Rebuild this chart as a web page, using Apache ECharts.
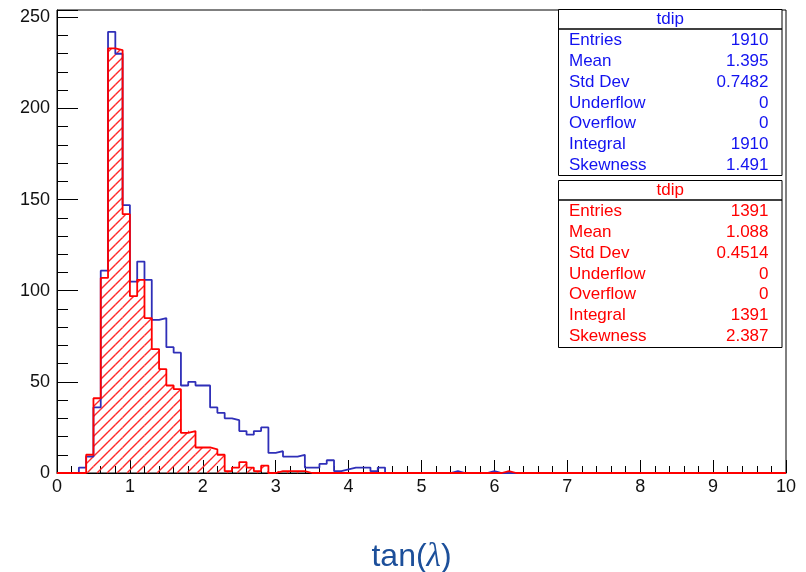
<!DOCTYPE html>
<html>
<head>
<meta charset="utf-8">
<script src="https://cdn.jsdelivr.net/npm/echarts@6/dist/echarts.min.js"></script>
<style>
  html, body { margin: 0; padding: 0; background: #fff; }
  #chart { width: 806px; height: 572px; }
</style>
</head>
<body>
<div id="chart"></div>
<script>
// Histogram binning: 100 bins of width 0.1 over [0, 10]
const binWidth = 0.1;
const xRange = [0, 10];
const yMax = 254;
const histName = 'tdip';

// Bin contents, one row per unit of tan(lambda)
const blueCounts = [
  0, 0, 0, 3, 9, 36, 111, 242, 230, 147,
  105, 116, 106, 84, 85, 69, 66, 48, 50, 48,
  48, 36, 33, 30, 29, 23, 21, 23, 25, 11,
  12, 9, 9, 10, 3, 3, 5, 7, 1, 2,
  3, 3, 3, 1, 3, 0, 0, 0, 0, 0,
  0, 0, 0, 0, 1, 0, 0, 0, 0, 1,
  0, 0, 0, 0, 0, 0, 0, 0, 0, 0,
  0, 0, 0, 0, 0, 0, 0, 0, 0, 0,
  0, 0, 0, 0, 0, 0, 0, 0, 0, 0,
  0, 0, 0, 0, 0, 0, 0, 0, 0, 0
];
const redCounts = [
  0, 0, 0, 0, 10, 41, 107, 233, 232, 142,
  97, 106, 85, 68, 57, 48, 46, 22, 23, 14,
  14, 13, 10, 1, 3, 6, 3, 1, 4, 0,
  1, 1, 1, 1, 0, 0, 0, 0, 0, 0,
  0, 0, 0, 0, 0, 0, 0, 0, 0, 0,
  0, 0, 0, 0, 0, 0, 0, 0, 0, 0,
  0, 1, 0, 0, 0, 0, 0, 0, 0, 0,
  0, 0, 0, 0, 0, 0, 0, 0, 0, 0,
  0, 0, 0, 0, 0, 0, 0, 0, 0, 0,
  0, 0, 0, 0, 0, 0, 0, 0, 0, 0
];

// Statistics panel contents
const statLabels = ['Entries', 'Mean', 'Std Dev', 'Underflow', 'Overflow', 'Integral', 'Skewness'];
const blueStats = ['1910', '1.395', '0.7482', '0', '0', '1910', '1.491'];
const redStats = ['1391', '1.088', '0.4514', '0', '0', '1391', '2.387'];

const FONT = '"Liberation Sans", Arial, Helvetica, sans-serif';
const BLUE_LINE = '#2f2fb8';
const BLUE_TEXT = '#1212f0';
const RED = '#ff0000';
const HATCH = '#ff2a2a';
const HATCH_STEP = 10;
const TITLE_COLOR = '#1c4f9a';

// Left bin edges paired with contents, closed at the upper edge of the range
function stepPoints(counts) {
  const pts = counts.map((c, i) => [+(xRange[0] + i * binWidth).toFixed(2), c]);
  pts.push([xRange[1], 0]);
  return pts;
}

// [lowEdge, highEdge, content] for every filled bin
function binRects(counts) {
  const out = [];
  counts.forEach((c, i) => {
    if (c > 0) out.push([+(i * binWidth).toFixed(2), +((i + 1) * binWidth).toFixed(2), c]);
  });
  return out;
}

// Diagonal "/" hatching inside one bin, on a lattice shared by all bins
function renderHatch(params, api) {
  const p0 = api.coord([api.value(0), 0]);
  const p1 = api.coord([api.value(1), api.value(2)]);
  const left = p0[0], right = p1[0], bottom = p0[1], top = p1[1];
  const cStart = Math.ceil((left + top) / HATCH_STEP) * HATCH_STEP;
  const children = [];
  for (let c = cStart; c <= right + bottom; c += HATCH_STEP) {
    const xa = Math.max(left, c - bottom);
    const xb = Math.min(right, c - top);
    if (xb > xa) {
      children.push({
        type: 'polyline',
        shape: { points: [[xa, c - xa], [xb, c - xb]] },
        style: { stroke: HATCH, fill: null, lineWidth: 1.4, opacity: 1 }
      });
    }
  }
  return { type: 'group', children: children };
}

// One statistics box drawn as graphic elements
function statBox(top, height, color, values) {
  const left = 558.5, width = 223.5;
  const els = [
    { type: 'rect', shape: { x: left, y: top, width: width, height: height },
      style: { fill: '#fff', stroke: '#000', lineWidth: 1 } },
    { type: 'line', shape: { x1: left, y1: top + 19.5, x2: left + width, y2: top + 19.5 },
      style: { stroke: '#000', lineWidth: 1.5 } },
    { type: 'text', x: left + width / 2, y: top + 10,
      style: { text: histName, fill: color, font: '17px ' + FONT,
               align: 'center', verticalAlign: 'middle', textAlign: 'center', textVerticalAlign: 'middle' } }
  ];
  statLabels.forEach((lab, i) => {
    const y = top + 31 + i * 20.8;
    els.push({ type: 'text', x: 569, y: y,
      style: { text: lab, fill: color, font: '17px ' + FONT,
               align: 'left', verticalAlign: 'middle', textAlign: 'left', textVerticalAlign: 'middle' } });
    els.push({ type: 'text', x: 768.5, y: y,
      style: { text: values[i], fill: color, font: '17px ' + FONT,
               align: 'right', verticalAlign: 'middle', textAlign: 'right', textVerticalAlign: 'middle' } });
  });
  return els;
}

const chart = echarts.init(document.getElementById('chart'), null, { renderer: 'canvas' });

chart.setOption({
  animation: false,
  backgroundColor: '#fff',
  grid: {
    left: 57, right: 20, top: 10, bottom: 99,
    outerBoundsMode: 'none',
    containLabel: false,
    show: true, borderColor: '#000', borderWidth: 1, backgroundColor: 'transparent'
  },
  xAxis: {
    type: 'value', min: xRange[0], max: xRange[1], interval: 1,
    axisLine: { show: true, onZero: false, lineStyle: { color: '#000', width: 1 } },
    axisTick: { show: true, inside: true, length: 13, lineStyle: { color: '#000' } },
    minorTick: { show: true, splitNumber: 5, length: 7, lineStyle: { color: '#000' } },
    axisLabel: { fontSize: 18, fontFamily: FONT, color: '#111', margin: 5 },
    splitLine: { show: false },
    minorSplitLine: { show: false },
    name: '{a|tan(}{b|λ}{a|)}',
    nameLocation: 'middle',
    nameGap: 68,
    nameTextStyle: {
      color: TITLE_COLOR, fontSize: 32, fontFamily: FONT,
      padding: [0, 20, 0, 0],
      rich: {
        a: { color: TITLE_COLOR, fontSize: 32, fontFamily: FONT },
        b: { color: TITLE_COLOR, fontSize: 33, fontFamily: '"Liberation Serif", "DejaVu Serif", serif', fontStyle: 'italic' }
      }
    }
  },
  yAxis: [
    {
      type: 'value', min: 0, max: yMax, interval: 10, position: 'left',
      axisLine: { show: true, onZero: false, lineStyle: { color: '#000', width: 1 } },
      axisTick: { show: true, inside: true, length: 11, lineStyle: { color: '#000' } },
      axisLabel: {
        fontSize: 18, fontFamily: FONT, color: '#111', margin: 7,
        formatter: v => (v % 50 === 0 ? String(v) : '')
      },
      splitLine: { show: false }
    },
    {
      type: 'value', min: 0, max: yMax, interval: 50, position: 'left',
      axisLine: { show: false },
      axisTick: { show: true, inside: true, length: 21, lineStyle: { color: '#000' } },
      axisLabel: { show: false },
      splitLine: { show: false }
    }
  ],
  series: [
    {
      name: histName + ' (blue)',
      type: 'line', step: 'end', yAxisIndex: 0,
      data: stepPoints(blueCounts),
      symbol: 'none',
      lineStyle: { color: BLUE_LINE, width: 1.8 },
      z: 3
    },
    {
      name: histName + ' (red hatch)',
      type: 'custom', yAxisIndex: 0,
      data: binRects(redCounts),
      renderItem: renderHatch,
      encode: { x: [0, 1], y: 2 },
      itemStyle: { color: HATCH },
      silent: true,
      z: 2
    },
    {
      name: histName + ' (red)',
      type: 'line', step: 'end', yAxisIndex: 0,
      data: stepPoints(redCounts),
      symbol: 'none',
      lineStyle: { color: RED, width: 1.8 },
      z: 4
    }
  ],
  graphic: [
    ...statBox(9.5, 166, BLUE_TEXT, blueStats),
    ...statBox(180.5, 167, RED, redStats)
  ]
});
</script>
</body>
</html>
